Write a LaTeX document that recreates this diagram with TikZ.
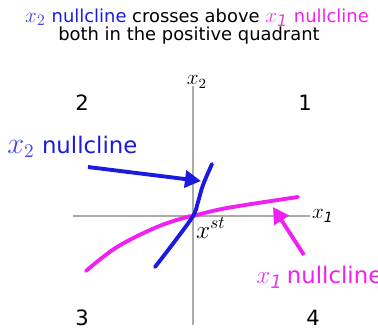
\documentclass[tikz,border=0pt]{standalone}
\usepackage{fontspec}
\setmainfont{DejaVu Sans}
\usetikzlibrary{arrows.meta,positioning}
\definecolor{ncBlue}{HTML}{1A1AE0}
\definecolor{ncBlueLt}{HTML}{4646E8}
\definecolor{ncPink}{HTML}{F020F0}
\definecolor{ncPinkLt}{HTML}{E040E8}
\definecolor{ncAxis}{HTML}{AAAAAA}
\newcommand{\mvar}[2]{{\fontsize{#1}{#1}\selectfont$#2$}}
\tikzset{
  axisline/.style={ncAxis, line width=0.6pt},
  nullcl/.style={line width=2.2pt, line cap=round, smooth, tension=0.6},
  pointer/.style={-{Triangle[length=3.2mm, width=3.4mm]}, line width=2.2pt},
  quad/.style={font=\fontsize{12}{14}\selectfont, inner sep=0pt},
  axlabel/.style={inner sep=1pt},
  ncname/.style={font=\fontsize{13}{15}\selectfont, inner sep=0pt, anchor=west},
  title/.style={font=\fontsize{10.2}{12}\selectfont, inner sep=0pt, anchor=base}
}

\begin{document}
\begin{tikzpicture}[x=0.02cm, y=-0.02cm]
  \useasboundingbox (0,0) rectangle (378,332);
  % title
  \node[title] (title1) at (197,22) {\textcolor{ncBlueLt}{\mvar{13}{x_2}} \textcolor{ncBlue}{nullcline} crosses above \textcolor{ncPinkLt}{\mvar{13}{x_{\mathit{1}}}} \textcolor{ncPink}{nullcline}};
  \node[title] (title2) at (189,40) {both in the positive quadrant};
  % axes
  \coordinate (xst) at (193,216);
  \coordinate (xleft) at (73,216);
  \coordinate (xright) at (310,216);
  \coordinate (ytop) at (193,86);
  \coordinate (ybot) at (193,325);
  \draw[axisline] (xleft) -- (xright);
  \draw[axisline] (ytop) -- (ybot);
  \node[axlabel, right=0pt of xright] (x1lab) {\mvar{12}{x_{\mathit{1}}}};
  \node[axlabel] (x2lab) at (197,82) {\mvar{12}{x_2}};
  \node[axlabel, anchor=north west] (xstlab) at (194,216) {\mvar{14}{x^{st}}};
  % quadrants
  \node[quad] (q2) at (82,103) {2};
  \node[quad] (q1) at (305,103) {1};
  \node[quad] (q3) at (82,318) {3};
  \node[quad] (q4) at (313,318) {4};
  % nullclines
  \draw[nullcl, ncPink] plot coordinates {(86,271) (117,247) (157,227) (187,217) (193,216) (227,208) (298,197)};
  \draw[nullcl, ncBlue] plot coordinates {(155,267) (175,241) (193,216) (198,202) (203,185) (212,164)};
  % labels and pointers
  \node[ncname] (bname) at (7,147) {\textcolor{ncBlueLt}{\mvar{16}{x_2}} \textcolor{ncBlue}{nullcline}};
  \node[ncname] (pname) at (256,277) {\textcolor{ncPinkLt}{\mvar{15}{x_{\mathit{1}}}}\,\textcolor{ncPink}{nullcline}};
  \coordinate (bfrom) at (88,167);
  \coordinate (bto) at (201,181);
  \coordinate (pfrom) at (304,255);
  \coordinate (pto) at (273,207);
  \draw[pointer, ncBlue] (bfrom) -- (bto);
  \draw[pointer, ncPink] (pfrom) -- (pto);
\end{tikzpicture}
\end{document}
